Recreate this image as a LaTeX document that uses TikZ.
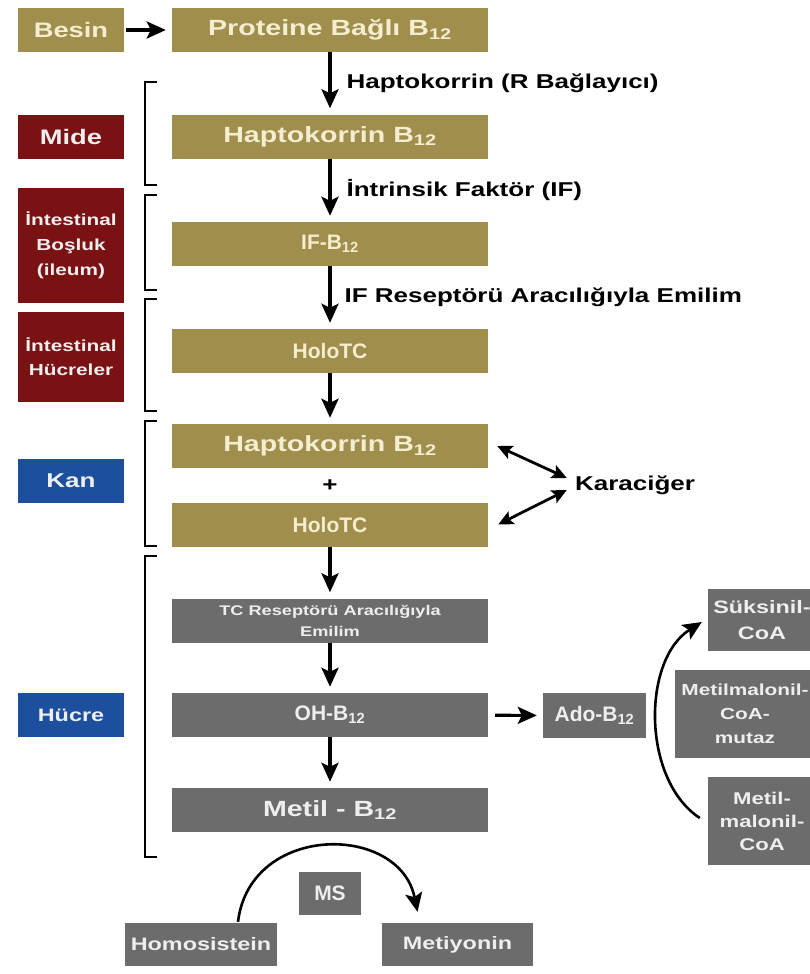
\documentclass[tikz,border=0pt]{standalone}
\usepackage{fontspec}
\setmainfont[FakeStretch=1.3]{Liberation Sans}
\newfontfamily\narrowf{Liberation Sans}
\usetikzlibrary{arrows.meta}
\newcommand{\bz}{B\textsubscript{12}}
\newcommand{\fsz}[2]{\fontsize{#1}{#2}\selectfont}
\definecolor{goldc}{HTML}{A08E4C}
\definecolor{creamc}{HTML}{F4EDCF}
\definecolor{redc}{HTML}{7A1214}
\definecolor{bluec}{HTML}{1C4F9E}
\definecolor{greyc}{HTML}{6C6C6C}
\definecolor{lightc}{HTML}{EEEEEE}

\begin{document}
\begin{tikzpicture}[x=1pt, y=-1pt,
    box/.style={inner sep=0pt, minimum height=44pt, align=center},
    gold/.style={box, fill=goldc, text=creamc, minimum width=316pt, font=\bfseries\fsz{22}{26}},
    grey/.style={box, fill=greyc, text=lightc, minimum width=316pt, font=\bfseries\fsz{22}{26}},
    side/.style={box, text=lightc, minimum width=106pt, font=\bfseries\fsz{21}{25}},
    narrow/.style={font=\narrowf\bfseries\fsz{21}{25}},
    lbl/.style={inner sep=0pt, font=\bfseries\fsz{20}{24}},
    arr/.style={-{Stealth[length=19pt, width=17pt, inset=4pt]}, line width=3.2pt, shorten >=6pt},
    dbl/.style={{Stealth[length=15pt, width=14pt, inset=3pt]}-{Stealth[length=15pt, width=14pt, inset=3pt]}, line width=2.8pt},
    brak/.style={line width=2.8pt}]
  \useasboundingbox (0, 0) rectangle (810, 974);

  % left column
  \node[side, fill=redc] (mide) at (71, 136.5) {Mide};
  \node[side, fill=redc, minimum height=115pt, font=\bfseries\fsz{16}{25}] (ileum) at (71, 245.5) {İntestinal\\Boşluk\\(ileum)};
  \node[side, fill=redc, minimum height=90pt, font=\bfseries\fsz{16}{24}] (hucreler) at (71, 357) {İntestinal\\Hücreler};
  \node[side, fill=bluec, font=\bfseries\fsz{20}{24}] (kan) at (71, 481) {Kan};
  \node[side, fill=bluec, font=\bfseries\fsz{18}{22}] (hucre) at (71, 715) {Hücre};

  % main column
  \node[gold, minimum width=106pt, font=\bfseries\fsz{21}{25}] (besin) at (71, 30) {Besin};
  \node[gold] (prot) at (330, 30) {Proteine Bağlı \bz};
  \node[gold] (haptoA) at (330, 136.5) {Haptokorrin \bz};
  \node[gold, narrow] (ifb) at (330, 244) {IF-\bz};
  \node[gold, narrow] (holoA) at (330, 351) {HoloTC};
  \node[gold] (haptoB) at (330, 446) {Haptokorrin \bz};
  \node[lbl] (plus) at (330, 486) {+};
  \node[gold, narrow] (holoB) at (330, 524.5) {HoloTC};
  \node[grey, font=\bfseries\fsz{14}{21}] (tc) at (330, 620.5) {TC Reseptörü Aracılığıyla\\Emilim};
  \node[grey, narrow] (oh) at (330, 715) {OH-\bz};
  \node[grey] (metil) at (330, 810) {Metil - \bz};
  \node[lbl] (kar) at (635, 485) {Karaciğer};

  % right side
  \node[grey, narrow, minimum width=103pt, minimum height=45pt] (ado) at (594.5, 715.5) {Ado-\bz};
  \node[grey, minimum width=108pt, minimum height=62pt, font=\bfseries\fsz{18}{26}] (suk) at (762, 620) {Süksinil-\\CoA};
  \node[grey, minimum width=140pt, minimum height=88pt, font=\bfseries\fsz{16}{24}] (mutaz) at (745, 714) {Metilmalonil-\\CoA-\\mutaz};
  \node[grey, minimum width=108pt, minimum height=88pt, font=\bfseries\fsz{17}{23}] (mmcoa) at (762, 821) {Metil-\\malonil-\\CoA};

  % bottom
  \node[grey, narrow, minimum width=62pt, minimum height=43pt] (ms) at (330, 893.5) {MS};
  \node[grey, minimum width=152pt, minimum height=43pt, font=\bfseries\fsz{18}{22}] (homo) at (201, 944.5) {Homosistein};
  \node[grey, minimum width=151pt, minimum height=43pt, font=\bfseries\fsz{18}{22}] (meti) at (457.5, 944.5) {Metiyonin};

  % brackets
  \foreach \ya/\yb in {82/185, 195/290, 299/411, 421/546, 556/857}
    \draw[brak] (157, \ya) -- (145, \ya) -- (145, \yb) -- (157, \yb);

  % arrows
  \draw[arr, shorten <=2pt] (besin) -- (prot);
  \draw[arr] (prot) -- node[lbl, right=15pt] {Haptokorrin (R Bağlayıcı)} (haptoA);
  \draw[arr] (haptoA) -- node[lbl, right=15pt] {İntrinsik Faktör (IF)} (ifb);
  \draw[arr] (ifb) -- node[lbl, right=13pt] {IF Reseptörü Aracılığıyla Emilim} (holoA);
  \draw[arr] (holoA) -- (haptoB);
  \draw[arr] (holoB) -- (tc);
  \draw[arr] (tc) -- (oh);
  \draw[arr] (oh) -- (metil);
  \draw[arr, shorten <=7pt] (oh) -- (ado);
  \draw[dbl] ([xshift=9pt]haptoB.east) -- ([xshift=-8pt, yshift=7pt]kar.west);
  \draw[dbl] ([xshift=10pt]holoB.east) -- ([xshift=-8pt, yshift=-5pt]kar.west);
  \draw[arr, line width=2.6pt, shorten >=0pt] ([xshift=-8pt, yshift=3pt]mmcoa.west)
    .. controls +(-58, -38) and +(-60, 38) .. ([xshift=-6pt, yshift=-2pt]suk.west);
  \draw[arr, line width=2.6pt, shorten >=0pt] ([xshift=37pt, yshift=1pt]homo.north)
    .. controls +(12, -99) and +(-18, -89) .. ([xshift=-40pt, yshift=11pt]meti.north);
\end{tikzpicture}
\end{document}
